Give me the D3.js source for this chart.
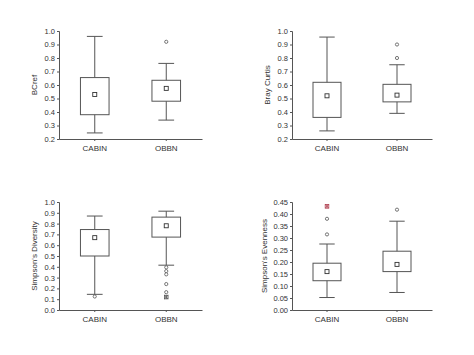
<!DOCTYPE html>
<html><head><meta charset="utf-8">
<script src="https://cdn.jsdelivr.net/npm/d3@7"></script>
<style>body{margin:0;background:#fff}svg{display:block}text{font-family:"Liberation Sans",Arial,sans-serif;fill:#333}</style>
</head><body><svg id="c" width="474" height="355"></svg>
<script>
const categories = ["CABIN", "OBBN"];
// [whiskerLow, Q1, mean, Q3, whiskerHigh]
const bcrefStats = [[0.245, 0.38, 0.53, 0.655, 0.96], [0.34, 0.48, 0.575, 0.635, 0.76]];
const bcrefOutliers = [[], [0.92]];
const bcrefExtremes = [[], []];
const brayStats = [[0.26, 0.36, 0.52, 0.62, 0.955], [0.39, 0.475, 0.525, 0.605, 0.75]];
const brayOutliers = [[], [0.9, 0.8]];
const brayExtremes = [[], []];
const divStats = [[0.145, 0.5, 0.67, 0.745, 0.87], [0.415, 0.675, 0.78, 0.86, 0.915]];
const divOutliers = [[0.125], [0.395, 0.36, 0.33, 0.24, 0.165]];
const divExtremes = [[], [0.12]];
const evenStats = [[0.052, 0.122, 0.16, 0.195, 0.275], [0.073, 0.16, 0.19, 0.245, 0.37]];
const evenOutliers = [[0.38, 0.315], [0.418]];
const evenExtremes = [[0.432], []];
const ticks01 = [0.2,0.3,0.4,0.5,0.6,0.7,0.8,0.9,1.0];
const ticksDiv = [0,0.1,0.2,0.3,0.4,0.5,0.6,0.7,0.8,0.9,1.0];
const ticksEven = [0,0.05,0.1,0.15,0.2,0.25,0.3,0.35,0.4,0.45];

const panels = [
  {label:"BCref", stats:bcrefStats, out:bcrefOutliers, ext:bcrefExtremes, ticks:ticks01, dom:[0.2,1.0], fmt:d3.format(".1f"), x0:59, x1:202, yTop:31, yBot:139, labX:34, extColor:"#555"},
  {label:"Bray Curtis", stats:brayStats, out:brayOutliers, ext:brayExtremes, ticks:ticks01, dom:[0.2,1.0], fmt:d3.format(".1f"), x0:292, x1:432, yTop:31, yBot:139, labX:267, extColor:"#555"},
  {label:"Simpson's Diversity", stats:divStats, out:divOutliers, ext:divExtremes, ticks:ticksDiv, dom:[0,1.0], fmt:d3.format(".1f"), x0:59, x1:202, yTop:202, yBot:310, labX:34, extColor:"#555"},
  {label:"Simpson's Evenness", stats:evenStats, out:evenOutliers, ext:evenExtremes, ticks:ticksEven, dom:[0,0.45], fmt:d3.format(".2f"), x0:292, x1:432, yTop:202, yBot:310, labX:264, extColor:"#b04050"}
];

const svg = d3.select("#c");
const LC = "#555";
panels.forEach(p => {
  const g = svg.append("g");
  const x = d3.scaleBand().domain(categories).range([p.x0, p.x1]).padding(0);
  const y = d3.scaleLinear().domain(p.dom).range([p.yBot, p.yTop]);
  // y axis
  const ya = g.append("g").attr("transform", `translate(${p.x0},0)`)
    .call(d3.axisLeft(y).tickValues(p.ticks).tickFormat(p.fmt).tickSize(2).tickPadding(2));
  ya.select(".domain").attr("stroke", LC);
  ya.selectAll(".tick line").attr("stroke", LC);
  ya.selectAll("text").style("font-size","7.5px").attr("fill","#333");
  const xa = g.append("g").attr("transform", `translate(0,${p.yBot})`)
    .call(d3.axisBottom(x).tickSize(2).tickPadding(4).tickSizeOuter(0));
  xa.select(".domain").attr("stroke", LC);
  xa.selectAll(".tick line").attr("stroke", LC);
  xa.selectAll("text").style("font-size","8px").attr("fill","#333");
  g.append("text").attr("transform", `translate(${p.labX},${(p.yTop+p.yBot)/2}) rotate(-90)`)
    .attr("text-anchor","middle").attr("dy","0.35em").style("font-size","8px").text(p.label);
  const bw = x.bandwidth()*0.4, cw = x.bandwidth()*0.22;
  categories.forEach((c, i) => {
    const s = p.stats[i];
    const cx = x(c) + x.bandwidth()/2;
    // whiskers
    g.append("line").attr("x1",cx).attr("x2",cx).attr("y1",y(s[0])).attr("y2",y(s[4])).attr("stroke",LC);
    g.append("line").attr("x1",cx-cw/2).attr("x2",cx+cw/2).attr("y1",y(s[0])).attr("y2",y(s[0])).attr("stroke",LC);
    g.append("line").attr("x1",cx-cw/2).attr("x2",cx+cw/2).attr("y1",y(s[4])).attr("y2",y(s[4])).attr("stroke",LC);
    g.append("rect").attr("x",cx-bw/2).attr("width",bw).attr("y",y(s[3])).attr("height",y(s[1])-y(s[3]))
      .attr("fill","#fff").attr("stroke",LC);
    g.append("rect").attr("x",cx-2).attr("y",y(s[2])-2).attr("width",4).attr("height",4)
      .attr("fill","#fff").attr("stroke","#333").attr("stroke-width",0.9);
    p.out[i].forEach(v => {
      g.append("circle").attr("cx",cx).attr("cy",y(v)).attr("r",1.6).attr("fill","#fff").attr("stroke","#555").attr("stroke-width",0.8);
    });
    p.ext[i].forEach(v => {
      const yy = y(v);
      g.append("rect").attr("x",cx-1.8).attr("y",yy-1.8).attr("width",3.6).attr("height",3.6).attr("fill","none").attr("stroke",p.extColor).attr("stroke-width",0.8);
      g.append("path").attr("d",`M${cx-1.8},${yy-1.8}L${cx+1.8},${yy+1.8}M${cx+1.8},${yy-1.8}L${cx-1.8},${yy+1.8}M${cx},${yy-2}L${cx},${yy+2}`)
        .attr("stroke",p.extColor).attr("stroke-width",0.8);
    });
  });
});
</script></body></html>
